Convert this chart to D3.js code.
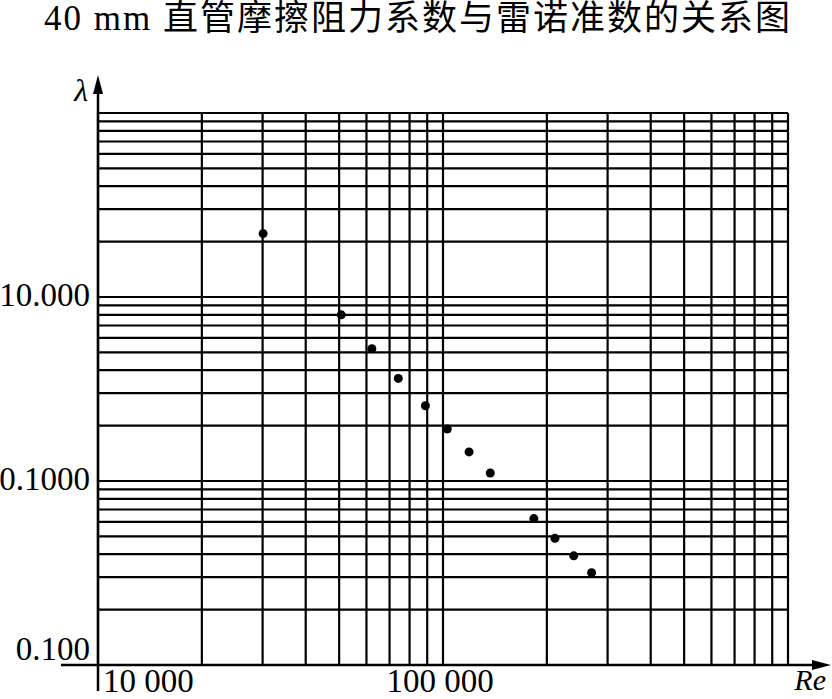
<!DOCTYPE html>
<html>
<head>
<meta charset="utf-8">
<script src="https://cdn.jsdelivr.net/npm/d3@7"></script>
<style>
  html, body { margin: 0; padding: 0; background: #fff; }
  svg { display: block; }
  text { font-family: "Liberation Serif", "Noto Sans CJK SC", serif; fill: #000; }
</style>
</head>
<body>
<svg id="chart" width="832" height="699"></svg>
<script>
// ---- data ----
const title = "40 mm 直管摩擦阻力系数与雷诺准数的关系图";
const reynolds = [30100, 50700, 62200, 74200, 88900, 102900, 119000, 137100, 183400, 211100, 239300, 269600];
const lambda   = [0.2211, 0.0800, 0.0523, 0.0361, 0.02565, 0.01915, 0.01439, 0.01105, 0.00625, 0.00488, 0.00392, 0.00317];
const xDomain = [1e4, 1e6];
const yDomain = [1e-3, 1];
const xTickValues = [1e4, 1e5];
const xTickLabels = ["10 000", "100 000"];
const yTickValues = [1e-3, 1e-2, 1e-1];
const yTickLabels = ["0.100", "0.1000", "10.000"];
const xAxisTitle = "Re";
const yAxisTitle = "λ";

// ---- layout ----
const svg = d3.select("#chart");
const x = d3.scaleLog().domain(xDomain).range([98, 788]);
const y = d3.scaleLog().domain(yDomain).range([665, 113]);

// title
svg.append("text")
  .attr("x", 418).attr("y", 30)
  .attr("text-anchor", "middle")
  .style("font-size", "35px")
  .style("letter-spacing", "2px")
  .text(title);

const grid = svg.append("g").attr("stroke", "#000").attr("stroke-width", 2.2).attr("fill", "none");

// horizontal grid lines
grid.selectAll("line.h").data(y.ticks()).join("line")
  .attr("class", "h")
  .attr("x1", x(xDomain[0])).attr("x2", x(xDomain[1]))
  .attr("y1", d => y(d)).attr("y2", d => y(d));

// vertical grid lines
grid.selectAll("line.v").data(x.ticks()).join("line")
  .attr("class", "v")
  .attr("x1", d => x(d)).attr("x2", d => x(d))
  .attr("y1", y(yDomain[0])).attr("y2", y(yDomain[1]));

// axes
const axes = svg.append("g").attr("stroke", "#000").attr("stroke-width", 2.5);
const x0 = x(xDomain[0]), y0 = y(yDomain[0]);
axes.append("line").attr("x1", 61).attr("x2", 815).attr("y1", y0).attr("y2", y0);
axes.append("line").attr("x1", x0).attr("x2", x0).attr("y1", 691).attr("y2", 90);
// arrows
svg.append("path").attr("fill", "#000")
  .attr("d", `M${812},${y0 - 5} L${831},${y0} L${812},${y0 + 5} Z`);
svg.append("path").attr("fill", "#000")
  .attr("d", `M${x0 - 5},${94} L${x0},${75} L${x0 + 5},${94} Z`);

// axis titles
svg.append("text").attr("x", 826).attr("y", 690).attr("text-anchor", "end")
  .style("font-size", "30px").style("font-style", "italic").text(xAxisTitle);
svg.append("text").attr("x", 88).attr("y", 101).attr("text-anchor", "end")
  .style("font-size", "32px").style("font-style", "italic").text(yAxisTitle);

// tick labels
svg.selectAll("text.xl").data(xTickValues).join("text")
  .attr("class", "xl")
  .attr("x", (d, i) => i === 0 ? x(d) + 5 : x(d) - 3)
  .attr("y", 692)
  .attr("text-anchor", (d, i) => i === 0 ? "start" : "middle")
  .style("font-size", "33px")
  .text((d, i) => xTickLabels[i]);

svg.selectAll("text.yl").data(yTickValues).join("text")
  .attr("class", "yl")
  .attr("x", 90)
  .attr("y", (d, i) => i === 0 ? y(d) - 5 : y(d) + 9)
  .attr("text-anchor", "end")
  .style("font-size", "33px")
  .text((d, i) => yTickLabels[i]);

// data points
svg.append("g").selectAll("circle").data(reynolds).join("circle")
  .attr("cx", d => x(d))
  .attr("cy", (d, i) => y(lambda[i]))
  .attr("r", 4.5)
  .attr("fill", "#000");
</script>
</body>
</html>
